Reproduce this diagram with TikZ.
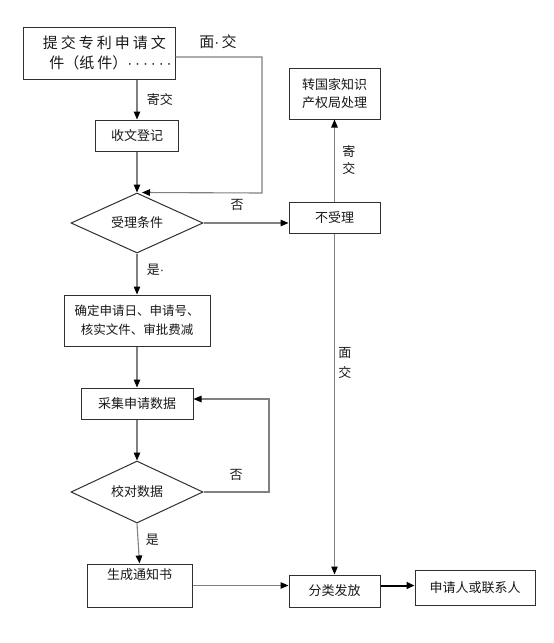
\documentclass[tikz,border=0pt]{standalone}
\usepackage{fontspec}
\newfontfamily\cjk{Noto Sans CJK SC}
\newfontfamily\cjkwide[LetterSpace=20]{Noto Sans CJK SC}
\newfontfamily\dotfont[LetterSpace=19]{Liberation Sans}
\usepackage{xcolor}
\usetikzlibrary{shapes.geometric, arrows.meta}
\definecolor{linegray}{HTML}{808080}
\definecolor{boxgray}{HTML}{303030}
\tikzset{
  stepbox/.style={
    rectangle, draw=boxgray, line width=1pt,
    fill=white, text=black!90, align=center, inner sep=2pt,
    font=\cjk\fontsize{13}{18}\selectfont,
  },
  testbox/.style={
    diamond, aspect=2.2, draw=boxgray, line width=1pt,
    fill=white, text=black!90, inner sep=0pt,
    font=\cjk\fontsize{13}{18}\selectfont,
  },
  arrow/.style={draw=linegray, line width=1.1pt, -{Triangle[length=8pt,width=6.5pt,color=black]}},
  line/.style={draw=linegray, line width=1.1pt},
  annot/.style={font=\cjk\fontsize{13}{17}\selectfont, text=black!90, align=center},
}

\begin{document}
\begin{tikzpicture}[x=1pt, y=-1pt]
  \useasboundingbox (0,0) rectangle (554,643);

  % Main column: submit -> register -> check -> confirm -> collect -> verify -> notice
  \node[stepbox, minimum width=152pt, minimum height=52pt, font=\cjkwide\fontsize{15}{20}\selectfont]
    (submit) at (99,53)
    {\hspace*{11pt}提交专利申请文\\\hspace*{23pt}件{\cjk （}纸件{\cjk ）}{\dotfont ······}};
  \node[stepbox, minimum width=83pt, minimum height=31pt] (recv) at (137,135.5) {收文登记};
  \node[testbox, minimum width=132pt, minimum height=60pt] (cond) at (137,223) {受理条件};
  \node[stepbox, minimum width=146pt, minimum height=51pt, font=\cjk\fontsize{12.5}{19}\selectfont]
    (confirm) at (137,320.5) {确定申请日、申请号、\\核实文件、审批费减};
  \node[stepbox, minimum width=112pt, minimum height=31pt] (collect) at (137,403.5) {采集申请数据};
  \node[testbox, minimum width=132pt, minimum height=62pt] (check) at (137,492) {校对数据};
  \node[stepbox, minimum width=105pt, minimum height=43pt] (notice) at (139.5,585.5) {生成通知书\\[4pt]};

  % Right column: reject -> transfer, reject -> sort -> applicant
  \node[stepbox, minimum width=91pt, minimum height=31pt] (reject) at (334.5,217.5) {不受理};
  \node[stepbox, minimum width=91pt, minimum height=51pt, font=\cjk\fontsize{13}{18}\selectfont]
    (transfer) at (334.5,93.5) {转国家知识\\产权局处理};
  \node[stepbox, minimum width=91pt, minimum height=32pt] (sort) at (334.5,591) {分类发放};
  \node[stepbox, minimum width=120pt, minimum height=35pt] (person) at (475,587.5) {申请人或联系人};

  % Turn points of the two loops
  \coordinate (paperturn) at (262,193);
  \coordinate (recheck) at (269,399);

  % Main column arrows
  \draw[arrow] (submit.south -| recv) -- node[annot, right=6pt] {寄交} (recv.north);
  \draw[arrow] (recv.south) -- (cond.north);
  \draw[arrow] (cond.south) -- node[annot, right=6pt, pos=0.4] {是{\dotfont ·}} (confirm.north);
  \draw[arrow] (confirm.south) -- (collect.north);
  \draw[arrow] (collect.south) -- (check.north);
  \draw[arrow] (check.south) -- node[annot, right=4pt, pos=0.4] {是} (notice.north);

  % Hand-in loop and verify loop
  \draw[arrow] ([yshift=-4pt]submit.east) -| (paperturn) -- ([xshift=5pt]cond.north);
  \node[annot, font=\cjk\fontsize{15}{20}\selectfont] (facelbl) at (218,42) {面{\dotfont ·}\,交};
  \draw[arrow] (check.east) -| (recheck) -- (collect.east |- recheck);
  \node[annot] (nolbl2) at (236,475) {否};

  % Reject branch
  \draw[arrow] (cond.east) -- (cond.east -| reject.west);
  \node[annot] (nolbl1) at (237,205) {否};
  \draw[arrow] (reject.north) -- node[annot, right=4pt, font=\cjk\fontsize{13}{17}\selectfont] {寄\\交} (transfer.south);
  \draw[arrow] (reject.south) -- node[annot, right=0pt, pos=0.38, font=\cjk\fontsize{13}{20}\selectfont] {面\\交} (sort.north);

  % Bottom row
  \draw[arrow] (notice.east) -- (notice.east -| sort.west);
  \draw[line width=2pt, -{Triangle[length=8pt,width=7pt]}] (notice.east -| sort.east) -- (notice.east -| person.west);

\end{tikzpicture}
\end{document}
